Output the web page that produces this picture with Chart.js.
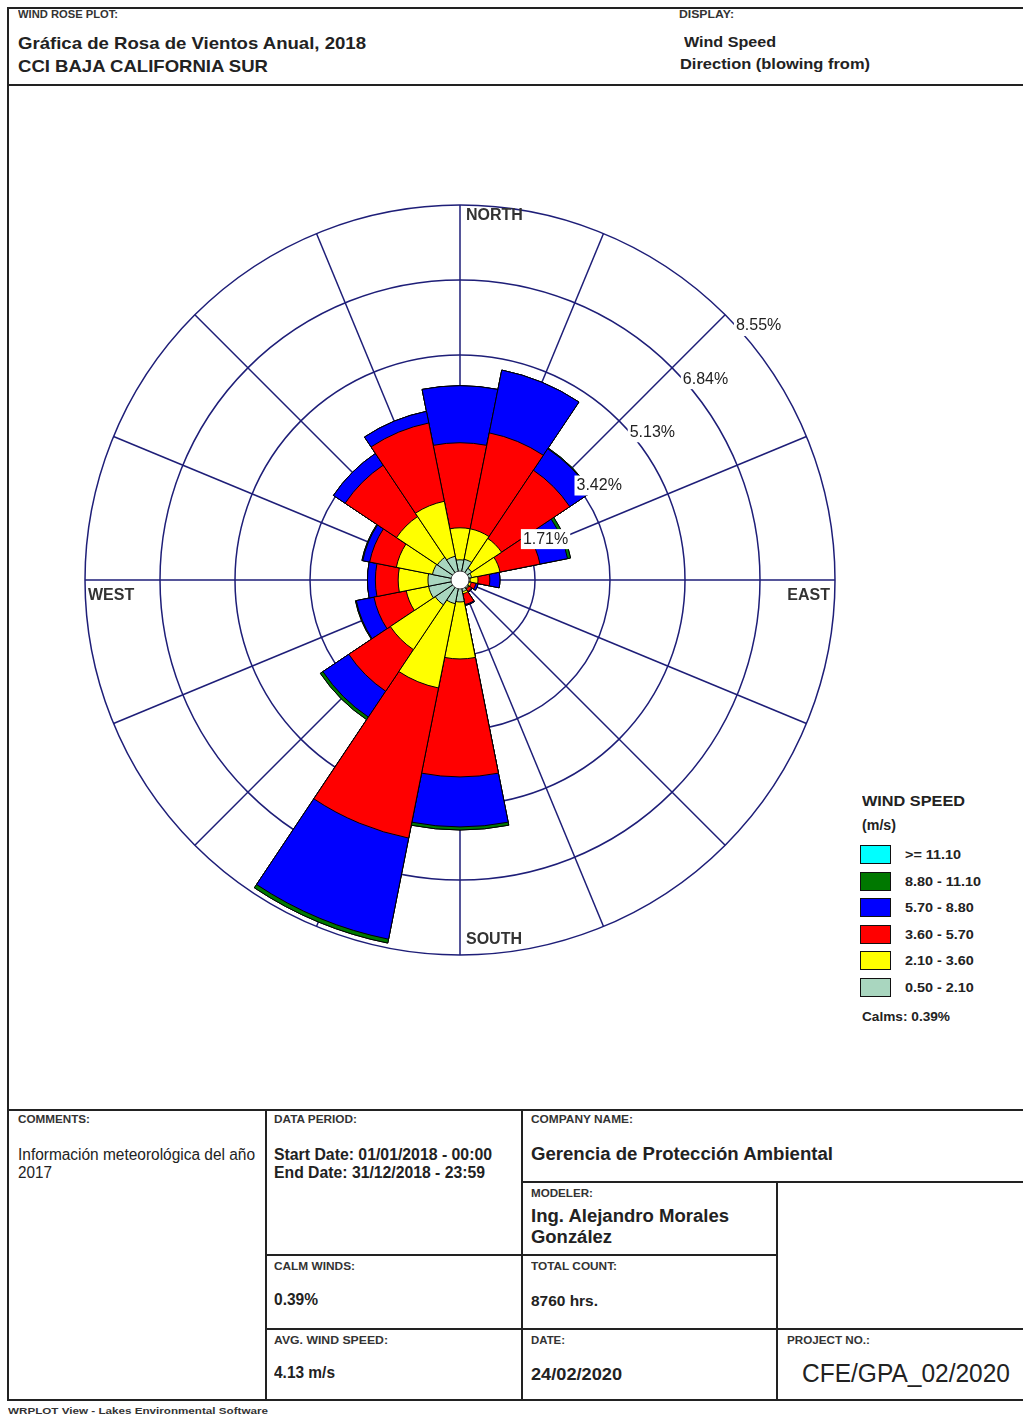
<!DOCTYPE html>
<html>
<head>
<meta charset="utf-8">
<script src="https://cdn.jsdelivr.net/npm/chart.js@4.4.0/dist/chart.umd.min.js"></script>
<style>
body{margin:0;width:1023px;height:1418px;overflow:hidden;background:#fff;position:relative;
     font-family:"Liberation Sans",Arial,sans-serif;color:#222}
.t{position:absolute;white-space:nowrap;line-height:1;transform-origin:0 50%}
.b{font-weight:bold}
.s{font-size:10px;font-weight:bold;color:#333}
.ln{position:absolute;background:#222}
#frame{position:absolute;left:7px;top:7px;width:1040px;height:1390px;border:2px solid #222}
#rose{position:absolute;left:70px;top:190px}
.lgbox{position:absolute;width:29px;height:17px;border:1.5px solid #111}
</style>
</head>
<body>
<div id="frame"></div>
<div class="ln" style="left:8px;top:84px;width:1030px;height:2px"></div>

<div class="t s" style="left:18px;top:10px" data-w="100">WIND ROSE PLOT:</div>
<div class="t b" style="left:18px;top:35px;font-size:17px" data-w="348">Gráfica de Rosa de Vientos Anual, 2018</div>
<div class="t b" style="left:18px;top:58px;font-size:17px" data-w="250">CCI BAJA CALIFORNIA SUR</div>
<div class="t s" style="left:679px;top:10px" data-w="55">DISPLAY:</div>
<div class="t b" style="left:684px;top:35px;font-size:14px" data-w="92">Wind Speed</div>
<div class="t b" style="left:680px;top:57px;font-size:14px" data-w="190">Direction (blowing from)</div>

<canvas id="rose" width="780" height="780"></canvas>

<div id="legend"></div>

<!-- bottom form -->
<div class="ln" style="left:8px;top:1109px;width:1030px;height:2px"></div>
<div class="ln" style="left:265px;top:1109px;width:2px;height:290px"></div>
<div class="ln" style="left:521px;top:1109px;width:2px;height:290px"></div>
<div class="ln" style="left:521px;top:1181px;width:520px;height:2px"></div>
<div class="ln" style="left:265px;top:1254px;width:512px;height:2px"></div>
<div class="ln" style="left:776px;top:1181px;width:2px;height:218px"></div>
<div class="ln" style="left:265px;top:1328px;width:780px;height:2px"></div>

<div class="t s" style="left:18px;top:1115px" data-w="72">COMMENTS:</div>
<div class="t" style="left:18px;top:1147px;font-size:16px" data-w="237">Información meteorológica del año</div>
<div class="t" style="left:18px;top:1165px;font-size:16px" data-w="34">2017</div>

<div class="t s" style="left:274px;top:1115px" data-w="83">DATA PERIOD:</div>
<div class="t b" style="left:274px;top:1147px;font-size:16px" data-w="218">Start Date: 01/01/2018 - 00:00</div>
<div class="t b" style="left:274px;top:1165px;font-size:16px" data-w="211">End Date: 31/12/2018 - 23:59</div>
<div class="t s" style="left:274px;top:1262px" data-w="81">CALM WINDS:</div>
<div class="t b" style="left:274px;top:1292px;font-size:16px" data-w="44">0.39%</div>
<div class="t s" style="left:274px;top:1336px" data-w="114">AVG. WIND SPEED:</div>
<div class="t b" style="left:274px;top:1365px;font-size:16px" data-w="61">4.13 m/s</div>

<div class="t s" style="left:531px;top:1115px" data-w="102">COMPANY NAME:</div>
<div class="t b" style="left:531px;top:1145px;font-size:18px" data-w="302">Gerencia de Protección Ambiental</div>
<div class="t s" style="left:531px;top:1189px" data-w="62">MODELER:</div>
<div class="t b" style="left:531px;top:1207px;font-size:18px" data-w="198">Ing. Alejandro Morales</div>
<div class="t b" style="left:531px;top:1228px;font-size:18px" data-w="81">González</div>
<div class="t s" style="left:531px;top:1262px" data-w="86">TOTAL COUNT:</div>
<div class="t b" style="left:531px;top:1293px;font-size:15px" data-w="67">8760 hrs.</div>
<div class="t s" style="left:531px;top:1336px" data-w="34">DATE:</div>
<div class="t b" style="left:531px;top:1366px;font-size:17px" data-w="91">24/02/2020</div>
<div class="t s" style="left:787px;top:1336px" data-w="83">PROJECT NO.:</div>
<div class="t" style="left:802px;top:1361px;font-size:25px" data-w="208">CFE/GPA_02/2020</div>

<div class="t" style="left:8px;top:1407px;font-size:9px;font-weight:bold;color:#333" data-w="260">WRPLOT View - Lakes Environmental Software</div>

<script>
// wind directions (blowing from), clockwise from north
const directions = ['N', 'NNE', 'NE', 'ENE', 'E', 'ESE', 'SE', 'SSE',
                    'S', 'SSW', 'SW', 'WSW', 'W', 'WNW', 'NW', 'NNW'];

// wind speed classes (m/s) and their colours
const speedBins = ['0.50 - 2.10', '2.10 - 3.60', '3.60 - 5.70', '5.70 - 8.80', '8.80 - 11.10', '>= 11.10'];
const binColors = ['#a9d6bf', '#ffff00', '#ff0000', '#0000ff', '#007800', '#00ffff'];

// frequency (%) per direction for each speed class
const freq050to210  = [0.46, 0.48, 0.32, 0.27, 0.23, 0.21, 0.23, 0.27, 0.50, 0.55, 0.68, 0.73, 0.73, 0.64, 0.62, 0.55];
const freq210to360  = [0.73, 0.71, 0.82, 0.66, 0.18, 0.05, 0.02, 0.05, 1.30, 1.96, 1.23, 0.52, 0.68, 0.84, 1.12, 1.28];
const freq360to570  = [1.94, 2.23, 1.87, 0.93, 0.27, 0.11, 0.07, 0.25, 2.69, 3.49, 1.14, 0.75, 0.52, 0.62, 1.41, 1.82];
const freq570to880  = [1.30, 1.46, 0.59, 0.64, 0.23, 0.05, 0.02, 0.02, 1.14, 2.35, 0.71, 0.41, 0.18, 0.16, 0.32, 0.27];
const freq880to1110 = [0.00, 0.00, 0.02, 0.07, 0.00, 0.00, 0.00, 0.00, 0.07, 0.09, 0.07, 0.02, 0.00, 0.02, 0.00, 0.00];
const freqOver1110  = [0, 0, 0, 0, 0, 0, 0, 0, 0, 0, 0, 0, 0, 0, 0, 0];

// circle values (%) and compass names
const ringTicks = [0, 1.71, 3.42, 5.13, 6.84, 8.55];
const calms = '0.39%';

const bins = [freq050to210, freq210to360, freq360to570, freq570to880, freq880to1110, freqOver1110];

// polar area has no stacking, so each class is drawn as a cumulative ring,
// the first dataset is painted last (on top)
let running = directions.map(() => 0);
const datasets = bins.map(function (bin, k) {
    running = running.map((v, i) => v + bin[i]);
    return {
        label: speedBins[k],
        data: running.slice(),
        backgroundColor: binColors[k],
        borderColor: '#000',
        borderWidth: 1
    };
});

const gridColor = '#1e1e78';

const roseText = {
    id: 'roseText',
    afterDatasetsDraw(chart) {
        const scale = chart.scales.r;
        const ctx = chart.ctx;
        const cx = scale.xCenter, cy = scale.yCenter, R = scale.drawingArea;
        ctx.save();

        // calm circle in the middle
        ctx.beginPath();
        ctx.arc(cx, cy, 9, 0, Math.PI * 2);
        ctx.fillStyle = '#fff';
        ctx.fill();
        ctx.lineWidth = 1;
        ctx.strokeStyle = '#444';
        ctx.stroke();

        // percentage labels, set along a line next to the NE spoke
        ctx.font = '16px "Liberation Sans", Arial, sans-serif';
        ctx.textAlign = 'left';
        ctx.textBaseline = 'middle';
        ringTicks.slice(1).forEach(function (v) {
            const r = scale.getDistanceFromCenterForValue(v);
            const k = 22;
            const d = Math.sqrt(2 * r * r - k * k);
            const x = cx + (k + d) / 2;
            const y = cy + (k - d) / 2;
            const label = v.toFixed(2) + '%';
            const w = ctx.measureText(label).width;
            ctx.fillStyle = '#fff';
            ctx.fillRect(x - 2, y - 10, w + 4, 20);
            ctx.fillStyle = '#222';
            ctx.fillText(label, x, y);
        });

        // compass names
        ctx.font = 'bold 16px "Liberation Sans", Arial, sans-serif';
        ctx.fillStyle = '#333';
        ctx.fillText('NORTH', cx + 6, cy - R + 11);
        ctx.fillText('SOUTH', cx + 6, cy + R - 15);
        ctx.fillText('WEST', cx - R + 3, cy + 16);
        ctx.textAlign = 'right';
        ctx.fillText('EAST', cx + R - 5, cy + 16);
        ctx.restore();
    }
};

const config = {
    type: 'polarArea',
    data: {
        labels: directions,
        datasets: datasets
    },
    options: {
        responsive: false,
        animation: false,
        devicePixelRatio: 1,
        layout: { padding: 15 },
        plugins: {
            legend: { display: false },
            tooltip: { enabled: false }
        },
        scales: {
            // value scale: circles only, rotated so each sector is centred on its direction
            r: {
                type: 'radialLinear',
                min: 0,
                max: 8.55,
                startAngle: -11.25,
                afterBuildTicks: function (scale) {
                    scale.ticks = ringTicks.map(v => ({ value: v }));
                },
                ticks: { display: false },
                grid: { circular: true, color: gridColor, lineWidth: 1.5 },
                angleLines: { display: false },
                pointLabels: { display: false }
            },
            // second scale only for the 16 spokes through the sector centres
            r2: {
                type: 'radialLinear',
                min: 0,
                max: 8.55,
                startAngle: 0,
                ticks: { display: false },
                grid: { display: false },
                angleLines: { display: true, color: gridColor, lineWidth: 1.5 },
                pointLabels: { display: false }
            }
        }
    },
    plugins: [roseText]
};

const ctx = document.getElementById('rose').getContext('2d');
const myChart = new Chart(ctx, config);

// legend, highest class on top
const legend = document.getElementById('legend');
let html = '<div class="t b" style="left:862px;top:793px;font-size:15px" data-w="103">WIND SPEED</div>'
         + '<div class="t b" style="left:862px;top:817px;font-size:15px" data-w="34">(m/s)</div>';
for (let j = 0; j < speedBins.length; j++) {
    const k = speedBins.length - 1 - j;
    const top = 845 + j * 26.6;
    html += '<div class="lgbox" style="left:860px;top:' + top + 'px;background:' + binColors[k] + '"></div>';
    html += '<div class="t b" style="left:905px;top:' + (top + 4) + 'px;font-size:12px;transform:scaleX(1.2)">'
          + speedBins[k].replace('>', '&gt;') + '</div>';
}
html += '<div class="t b" style="left:862px;top:1011px;font-size:12px" data-w="88">Calms: ' + calms + '</div>';
legend.innerHTML = html;

// stretch text to the widths of the printed form
document.querySelectorAll('[data-w]').forEach(function (el) {
    const natural = el.getBoundingClientRect().width;
    el.style.transform = 'scaleX(' + (el.dataset.w / natural) + ')';
});
</script>
</body>
</html>
